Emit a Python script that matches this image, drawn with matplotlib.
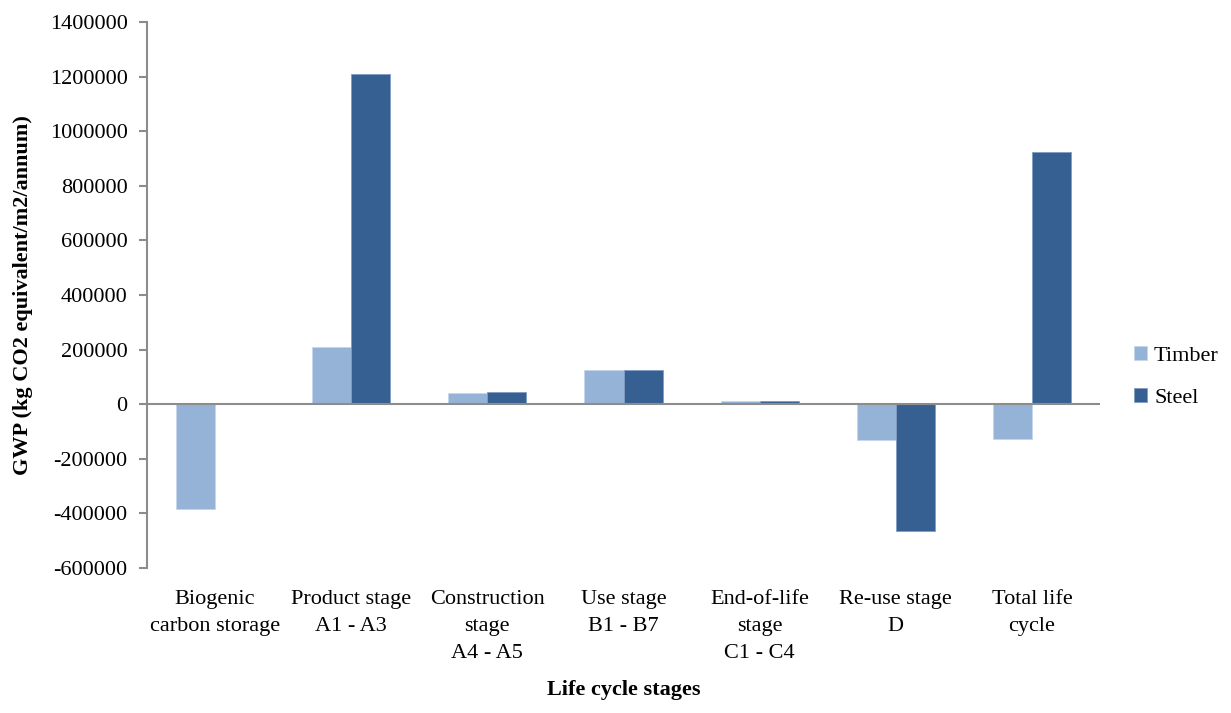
import numpy as np
from matplotlib import pyplot as plt

plt.rcParams['font.family'] = ['Liberation Serif', 'DejaVu Serif']

stages = ['Biogenic\ncarbon storage', 'Product stage\nA1 - A3', 'Construction\nstage\nA4 - A5',
          'Use stage\nB1 - B7', 'End-of-life\nstage\nC1 - C4', 'Re-use stage\nD', 'Total life\ncycle']
timber = [-383000, 209000, 40000, 125000, 11000, -132000, -128000]
steel = [0, 1210000, 43000, 125000, 13000, -466000, 924000]

fig = plt.figure(figsize=(12.31, 7.13), dpi=100)
ax = fig.add_axes([0.1194, 0.2034, 0.7742, 0.7657])

x = np.arange(len(stages))
w = 0.287
ax.bar(x - w / 2, timber, w, color='#95b3d7', edgecolor='#c5d5ea', linewidth=0.6, label='Timber')
ax.bar(x + w / 2, steel, w, color='#366092', edgecolor='#7f9cc0', linewidth=0.6, label='Steel')

ax.set_xlim(-0.5, len(stages) - 0.5)
ax.set_ylim(-600000, 1400000)
ax.set_yticks(np.arange(-600000, 1400001, 200000))
ax.set_yticklabels([str(v) for v in range(-600000, 1400001, 200000)])
ax.axhline(0, color='#8c8c8c', linewidth=1.5, zorder=3)

for s in ['top', 'right', 'bottom']:
    ax.spines[s].set_visible(False)
ax.spines['left'].set_color('#8c8c8c')
ax.spines['left'].set_linewidth(1.5)
ax.tick_params(axis='y', which='major', labelsize=16, length=6, width=1.5, color='#8c8c8c', pad=8)
ax.set_xticks(x)
ax.set_xticklabels(stages, fontsize=16, va='top', linespacing=1.55)
ax.tick_params(axis='x', length=0, pad=16)

ax.set_ylabel('GWP (kg CO2 equivalent/m2/annum)', fontsize=16, fontweight='bold', labelpad=12)
fig.text(0.5066, 0.018, 'Life cycle stages', fontsize=16, fontweight='bold', ha='center', va='bottom')

fig.legend(loc='center left', bbox_to_anchor=(0.905, 0.471), frameon=False, fontsize=16,
           handlelength=0.6, handleheight=0.6, handletextpad=0.3, labelspacing=1.0)

plt.savefig('out.png', dpi=100)
